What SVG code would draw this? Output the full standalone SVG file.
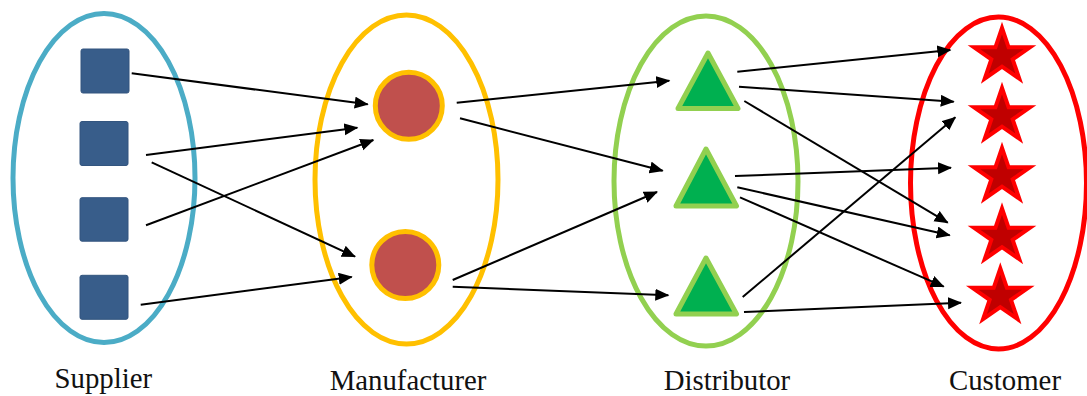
<svg xmlns="http://www.w3.org/2000/svg" width="1087" height="396" viewBox="0 0 1087 396">
<style>
.grp{fill:none;stroke-width:5}
.sq{fill:#385D8A;stroke:#33557F;stroke-width:1}
.ci{fill:#C0504D;stroke:#FFC000;stroke-width:5}
.tr{fill:#00B050;stroke:#92D050;stroke-width:5;stroke-linejoin:round}
.st{fill:#C00000;stroke:#FF0000;stroke-width:4;stroke-linejoin:miter}
.lbl{font-size:28.8px;fill:#111;text-anchor:middle}
.cn line{stroke:#000;stroke-width:2;marker-end:url(#ah)}
</style>
<defs>
<marker id="ah" markerUnits="userSpaceOnUse" markerWidth="15" markerHeight="13" refX="13" refY="6" orient="auto">
<path d="M0,0 L14,6 L0,12 Z" fill="#000"/>
</marker>
<path id="star" d="M0,-28 L6.6,-8.66 L27.96,-8.65 L10.69,3.31 L17.28,22.65 L0,10.7 L-17.28,22.65 L-10.69,3.31 L-27.96,-8.65 L-6.6,-8.66 Z"/>
</defs>
<rect width="1087" height="396" fill="#fff"/>

<g id="supplier">
<ellipse class="grp" cx="104" cy="178" rx="91" ry="164.6" stroke="#4BACC6"/>
<rect id="s1" class="sq" x="81" y="49" width="48" height="44" rx="2"/>
<rect id="s2" class="sq" x="80" y="121.5" width="48" height="44" rx="2"/>
<rect id="s3" class="sq" x="80" y="197.7" width="48" height="43.5" rx="2"/>
<rect id="s4" class="sq" x="80" y="275.3" width="48" height="44" rx="2"/>
<text class="lbl" font-family="Liberation Serif, DejaVu Serif, serif" x="103.3" y="388">Supplier</text>
</g>

<g id="manufacturer">
<ellipse class="grp" cx="406.5" cy="179.5" rx="91.5" ry="164.5" stroke="#FFC000"/>
<circle id="m1" class="ci" cx="408.8" cy="105.8" r="33.5"/>
<circle id="m2" class="ci" cx="405.3" cy="265" r="33.5"/>
<text class="lbl" font-family="Liberation Serif, DejaVu Serif, serif" x="408" y="390">Manufacturer</text>
</g>

<g id="distributor">
<ellipse class="grp" cx="706" cy="181" rx="92" ry="165" stroke="#92D050"/>
<polygon id="d1" class="tr" points="708,53 738,108.5 678,108.5"/>
<polygon id="d2" class="tr" points="706,149 736.5,206 676,206"/>
<polygon id="d3" class="tr" points="706,258 736.5,314 676,314"/>
<text class="lbl" font-family="Liberation Serif, DejaVu Serif, serif" x="727" y="390">Distributor</text>
</g>

<g id="customer">
<ellipse class="grp" cx="998.5" cy="183" rx="88" ry="166" stroke="#FF0000"/>
<use id="c1" class="st" href="#star" x="1002" y="56"/>
<use id="c2" class="st" href="#star" x="1002" y="116"/>
<use id="c3" class="st" href="#star" x="1002" y="176"/>
<use id="c4" class="st" href="#star" x="1002" y="236.5"/>
<use id="c5" class="st" href="#star" x="1000.3" y="296.5"/>
<text class="lbl" font-family="Liberation Serif, DejaVu Serif, serif" x="1005" y="390">Customer</text>
</g>

<g id="connectors" class="cn">
<line x1="131.7" y1="73.3" x2="367.7" y2="104.3"/>
<line x1="146" y1="155" x2="357.3" y2="127.7"/>
<line x1="151.7" y1="162.3" x2="355" y2="256.7"/>
<line x1="146" y1="225.3" x2="373.3" y2="140"/>
<line x1="140.7" y1="304.7" x2="351.7" y2="277"/>
<line x1="456.7" y1="102.7" x2="669.3" y2="80.7"/>
<line x1="460" y1="118.3" x2="662.7" y2="170.7"/>
<line x1="452.7" y1="280" x2="657" y2="192"/>
<line x1="452.7" y1="286.7" x2="668.3" y2="295.3"/>
<line x1="737.3" y1="71.7" x2="950.3" y2="50"/>
<line x1="739" y1="86.7" x2="953.7" y2="101.7"/>
<line x1="744.3" y1="101" x2="947.7" y2="222.7"/>
<line x1="735" y1="176" x2="951" y2="167.7"/>
<line x1="737.3" y1="187.3" x2="949.7" y2="235.3"/>
<line x1="740" y1="197.3" x2="943.7" y2="286.7"/>
<line x1="742.7" y1="297" x2="955.3" y2="117.3"/>
<line x1="744" y1="312" x2="961" y2="302.7"/>
</g>
</svg>
